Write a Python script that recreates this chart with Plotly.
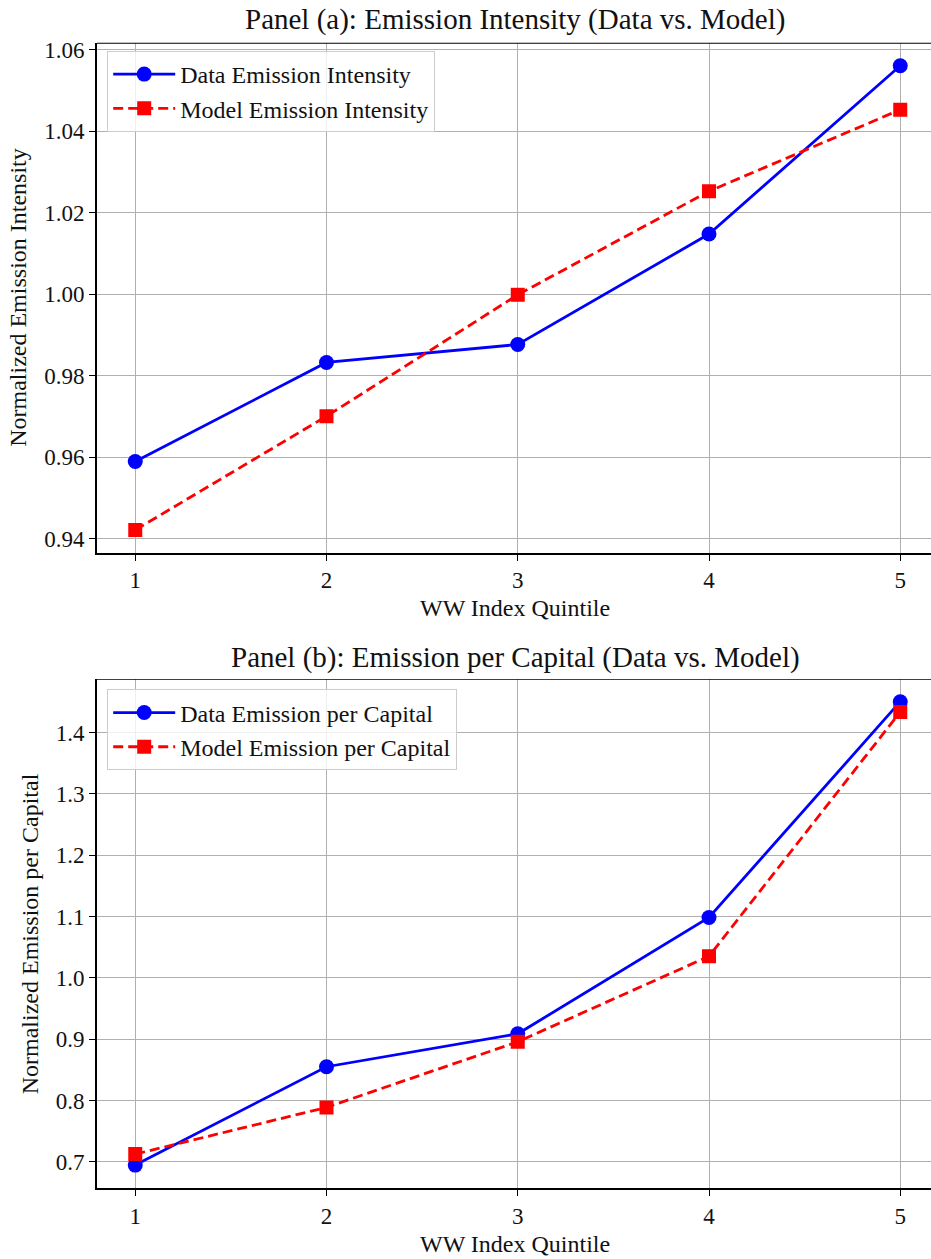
import plotly.graph_objects as go

quintiles = [1, 2, 3, 4, 5]

# Panel (a): emission intensity
data_intensity = [0.959, 0.9833, 0.9877, 1.0148, 1.0561]
model_intensity = [0.9422, 0.9701, 0.9999, 1.0253, 1.0453]

# Panel (b): emission per capital
data_per_capital = [0.6946, 0.855, 0.9087, 1.0984, 1.4503]
model_per_capital = [0.7125, 0.7887, 0.8957, 1.0352, 1.4336]

FONT = "Liberation Serif"
TXT = "#111111"
W, H = 931, 1259
L = 97

fig = go.Figure()

def add_pair(data, model, xa, ya, legend, dname, mname):
    fig.add_trace(go.Scatter(
        x=quintiles, y=data, mode="lines+markers", name=dname,
        line=dict(color="#0000ff", width=2.8),
        marker=dict(symbol="circle", size=15, color="#0000ff"),
        xaxis=xa, yaxis=ya, legend=legend))
    fig.add_trace(go.Scatter(
        x=quintiles, y=model, mode="lines+markers", name=mname,
        line=dict(color="#ff0000", width=2.8, dash="10px,5px"),
        marker=dict(symbol="square", size=14, color="#ff0000"),
        xaxis=xa, yaxis=ya, legend=legend))

add_pair(data_intensity, model_intensity, "x", "y", "legend",
         "Data Emission Intensity", "Model Emission Intensity")
add_pair(data_per_capital, model_per_capital, "x2", "y2", "legend2",
         "Data Emission per Capital", "Model Emission per Capital")

def pyd(top, bottom):
    return [1 - bottom / H, 1 - top / H]

axis_common = dict(
    showgrid=True, gridcolor="#b0b0b0", gridwidth=1.2,
    showline=True, linecolor="black", linewidth=1.6,
    ticks="outside", ticklen=6, tickwidth=1.4, tickcolor="black",
    tickfont=dict(family=FONT, size=23, color=TXT),
    zeroline=False,
)

xrange_ = [0.8, 0.8 + (W - L) / 191.25]

legend_common = dict(
    xanchor="left", yanchor="top", itemwidth=62,
    bgcolor="rgba(255,255,255,0.8)", bordercolor="#cccccc", borderwidth=1.2,
    font=dict(family=FONT, size=24, color=TXT), tracegroupgap=0,
)

fig.update_layout(
    width=W, height=H,
    margin=dict(l=L, r=0, t=0, b=0),
    plot_bgcolor="white", paper_bgcolor="white",
    font=dict(family=FONT, color=TXT),
    xaxis=dict(domain=[0, 1], range=xrange_, tickvals=quintiles,
               anchor="y", **axis_common),
    yaxis=dict(domain=pyd(38, 550), range=[0.9366, 1.0617],
               tickvals=[0.94, 0.96, 0.98, 1.00, 1.02, 1.04, 1.06],
               tickformat=".2f", anchor="x", **axis_common),
    xaxis2=dict(domain=[0, 1], range=xrange_, tickvals=quintiles,
                anchor="y2", **axis_common),
    yaxis2=dict(domain=pyd(677, 1188), range=[0.6568, 1.4868],
                tickvals=[0.7, 0.8, 0.9, 1.0, 1.1, 1.2, 1.3, 1.4],
                tickformat=".1f", anchor="x2", **axis_common),
    legend=dict(x=(107 - L) / (W - L), y=1 - 46 / H, **legend_common),
    legend2=dict(x=(107 - L) / (W - L), y=1 - 687 / H, **legend_common),
    showlegend=True,
)

# top spines
for yv, ya in [(1.0617, "y"), (1.4868, "y2")]:
    fig.add_shape(type="line", xref="paper", yref=ya, x0=0, x1=1, y0=yv, y1=yv,
                  line=dict(color="black", width=1.6))

def text(x, y, s, size, angle=0):
    fig.add_annotation(x=(x - L) / (W - L), y=1 - y / H,
                       xref="paper", yref="paper", text=s, showarrow=False,
                       textangle=angle, xanchor="center", yanchor="middle",
                       font=dict(family=FONT, size=size, color=TXT))

text(515, 15, "Panel (a): Emission Intensity (Data vs. Model)", 29)
text(515, 655, "Panel (b): Emission per Capital (Data vs. Model)", 29)
text(515, 605, "WW Index Quintile", 24)
text(515, 1244, "WW Index Quintile", 24)
text(18, 294, "Normalized Emission Intensity", 24, -90)
text(30, 933, "Normalized Emission per Capital", 24, -90)

fig.write_html("out.html")
